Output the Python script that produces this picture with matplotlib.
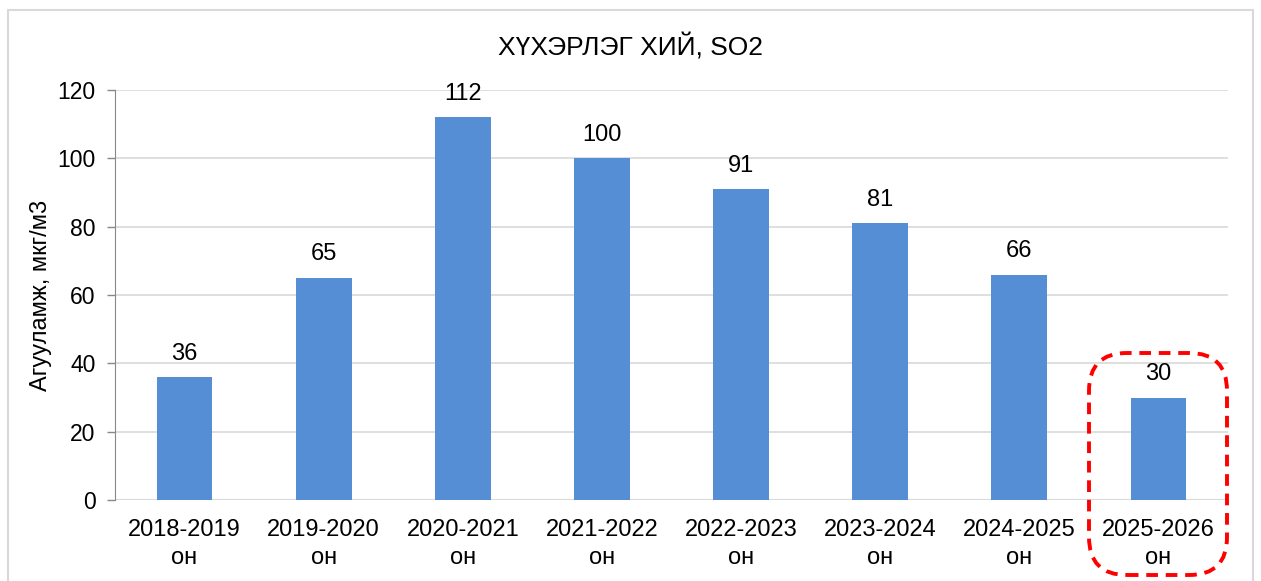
import numpy as np
import matplotlib.pyplot as plt
from matplotlib.patches import FancyBboxPatch, Rectangle

plt.rcParams['font.family'] = ['Liberation Sans', 'DejaVu Sans']

seasons = ['2018-2019', '2019-2020', '2020-2021', '2021-2022',
           '2022-2023', '2023-2024', '2024-2025', '2025-2026']
values = [36, 65, 112, 100, 91, 81, 66, 30]
labels = [s + '\nон' for s in seasons]

fig = plt.figure(figsize=(12.61, 5.81), dpi=100)
ax = fig.add_axes([115/1261, 1-500/581, 1113/1261, 410/581])

x = np.arange(len(values))
bars = ax.bar(x, values, width=0.4, color='#558ed5', zorder=3)
for xi, v in zip(x, values):
    ax.annotate(str(v), (xi, v), xytext=(0, 9), textcoords='offset points',
                ha='center', va='bottom', fontsize=17)

ax.set_xlim(-0.5, len(values)-0.5)
ax.set_ylim(0, 120)
ax.set_yticks(range(0, 121, 20))
ax.set_xticks(x)
ax.set_xticklabels(labels, fontsize=17, linespacing=1.3)
ax.tick_params(axis='x', length=0, pad=14)
ax.tick_params(axis='y', labelsize=16.5, length=6, width=1, color='#888888', pad=8)
ax.grid(axis='y', color='#d9d9d9', linewidth=1.2, zorder=0)
for s in ['top', 'right', 'bottom']:
    ax.spines[s].set_visible(False)
ax.spines['left'].set_color('#888888')
ax.axhline(0, color='#d9d9d9', linewidth=1.5, zorder=2)

ax.set_ylabel('Агууламж, мкг/м3', fontsize=17, labelpad=4)
fig.text(631/1261, 1-47/581, 'ХҮХЭРЛЭГ ХИЙ, SO2', ha='center', va='center', fontsize=19)

# chart frame
fig.patches.append(Rectangle((8/1261, -0.01), 1245/1261, 1-10/581+0.01,
                             transform=fig.transFigure, fill=False,
                             edgecolor='#d9d9d9', linewidth=1.5))

# highlight box around last season
fig.patches.append(FancyBboxPatch((1089/1261, 1-575/581), 138/1261, 222/581,
                                  boxstyle='round,pad=0,rounding_size=0.03',
                                  transform=fig.transFigure, fill=False,
                                  edgecolor='#ff0000', linewidth=2.8,
                                  linestyle=(0, (3, 2)), mutation_aspect=1261/581))

fig.savefig('out.png', dpi=100)
